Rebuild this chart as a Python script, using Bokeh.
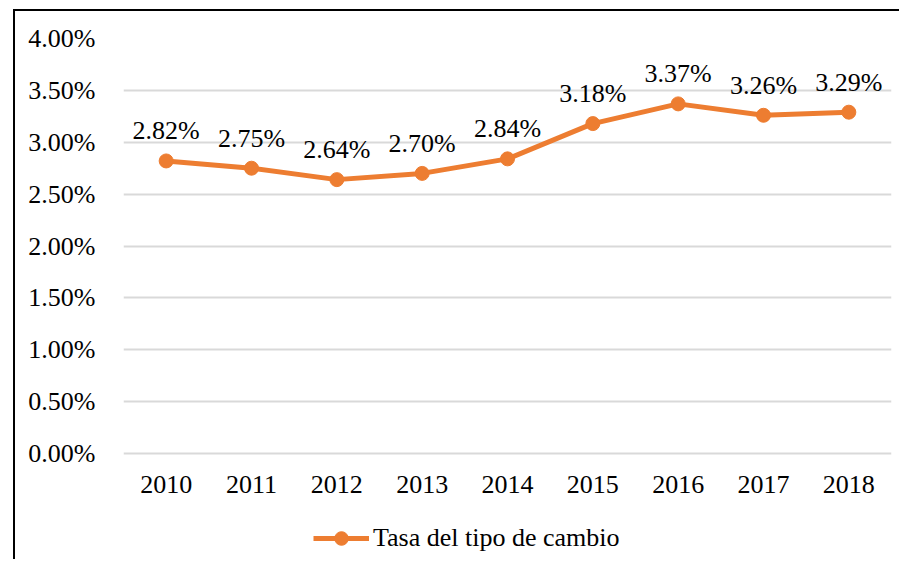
from bokeh.plotting import figure
from bokeh.models import (ColumnDataSource, FixedTicker, PrintfTickFormatter, Legend)
from bokeh.core.properties import value
from bokeh.embed import file_html
from bokeh.resources import INLINE

years = ["2010", "2011", "2012", "2013", "2014", "2015", "2016", "2017", "2018"]
rates = [2.82, 2.75, 2.64, 2.70, 2.84, 3.18, 3.37, 3.26, 3.29]
y_ticks = [0.0, 0.5, 1.0, 1.5, 2.0, 2.5, 3.0, 3.5, 4.0]
series_name = "Tasa del tipo de cambio"

labels = ["%.2f%%" % r for r in rates]
src = ColumnDataSource(dict(x=years, y=rates, lab=labels))

FONT = "Liberation Serif"
ORANGE = "#ED7D31"

# frame spans from the 4.00% line down to the bottom of the canvas; the
# space under 0.00% holds the category labels and the legend
p = figure(x_range=years, y_range=(-1.04, 4.0), width=886, height=550,
           output_backend="svg", toolbar_location=None,
           min_border_left=108, min_border_right=10, min_border_top=27,
           min_border_bottom=0, outline_line_color=None,
           margin=(9, 0, 0, 13),
           styles={"border-left": "2px solid black", "border-top": "2px solid black"})

p.xgrid.grid_line_color = None
p.ygrid.grid_line_color = "#D9D9D9"
p.ygrid.grid_line_width = 2
p.yaxis.ticker = FixedTicker(ticks=y_ticks)
p.yaxis.formatter = PrintfTickFormatter(format="%.2f%%")
p.xaxis.fixed_location = 0

for ax in (p.xaxis, p.yaxis):
    ax.axis_line_color = None
    ax.major_tick_line_color = None
    ax.minor_tick_line_color = None
    ax.major_label_text_font = FONT
    ax.major_label_text_font_size = "26px"
    ax.major_label_text_color = "#000000"
p.yaxis.major_label_standoff = 22
p.xaxis.major_label_standoff = 16

r1 = p.line("x", "y", source=src, line_color=ORANGE, line_width=5)
r2 = p.scatter("x", "y", source=src, size=14, fill_color=ORANGE, line_color=ORANGE)

p.text(x="x", y="y", text="lab", source=src, y_offset=-30,
       text_align="center", text_baseline="alphabetic",
       text_font=value(FONT), text_font_size=value("26px"),
       text_color="#000000")

legend = Legend(items=[(series_name, [r1, r2])], location=(190, 6),
                orientation="horizontal", glyph_width=56, glyph_height=34,
                label_standoff=4,
                label_text_font=FONT, label_text_font_size="26px",
                label_text_color="#000000", background_fill_alpha=0,
                border_line_color=None, padding=0, margin=0)
p.add_layout(legend, "center")

open("out.html", "w").write(file_html(p, INLINE))
